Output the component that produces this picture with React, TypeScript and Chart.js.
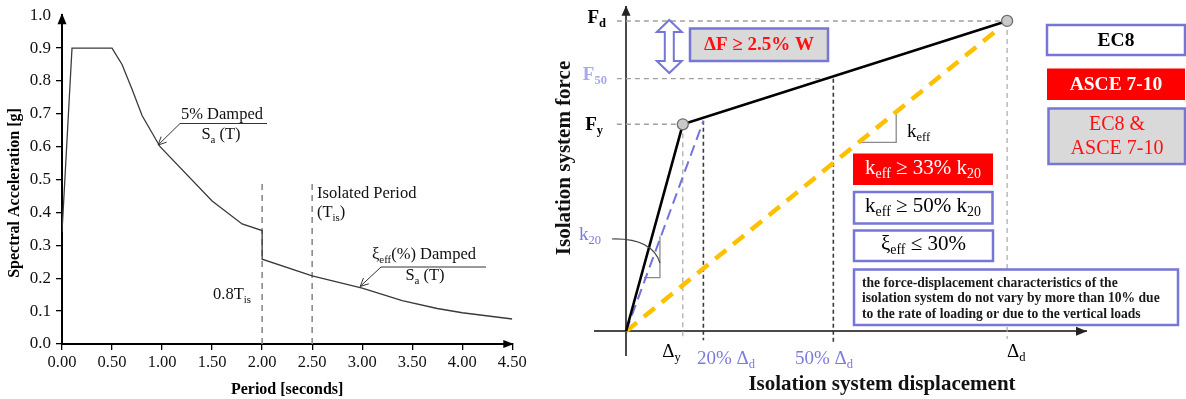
import React, { useEffect, useRef } from "react";
import { Chart, registerables } from "chart.js";
Chart.register(...registerables);

const SERIF = '"Liberation Serif", "Times New Roman", serif';

// ---------- Left chart: design spectrum ----------
const periodSec = [0, 0.1, 0.5, 0.6, 0.7, 0.8, 0.98, 1.5, 1.8, 2.0, 2.0, 2.5, 3.0, 3.4, 3.75, 4.0, 4.5];
const accelG = [0.34, 0.9, 0.9, 0.85, 0.775, 0.695, 0.6, 0.435, 0.365, 0.345, 0.258, 0.207, 0.17, 0.132, 0.108, 0.095, 0.076];
const markerPeriods = [2.0, 2.5]; // 0.8 T_is and T_is
const markerTops = [0.49, 0.49];
const periodTicks = [0, 0.5, 1, 1.5, 2, 2.5, 3, 3.5, 4, 4.5];
const accelTicks = [0, 0.1, 0.2, 0.3, 0.4, 0.5, 0.6, 0.7, 0.8, 0.9, 1.0];
const arrow5Tip = [0.96, 0.605];
const arrowEffTip = [2.98, 0.175];

// ---------- Right chart: force-displacement ----------
const bilinearDisp = [0, 0.149, 1.0];
const bilinearForce = [0, 0.667, 1.0];
const k20Disp = [0, 0.203];
const k20Force = [0, 0.678];
const keffDisp = [0, 0.973];
const keffForce = [0, 0.97];
const forceLevels = [1.0, 0.814, 0.667]; // F_d, F_50, F_y
const forceLevelEnds = [1.0, 0.544, 0.149];
const dispLevels = [0.149, 0.203, 0.544, 1.0]; // Δy, 20% Δd, 50% Δd, Δd
const dispLevelTops = [0.667, 0.678, 0.814, 1.0];
const dispLevelBottoms = [-0.022, -0.029, -0.034, -0.025];
const guideStart = -0.024;
const keffMarkDisp = [0.614, 0.709, 0.709];
const keffMarkForce = [0.609, 0.609, 0.699];
const k20MarkDisp = [0.047, 0.089, 0.089];
const k20MarkForce = [0.173, 0.173, 0.306];

type Seg = { t: string; s?: boolean };
const fnt = (size: number, bold: boolean) => `${bold ? "bold " : ""}${size}px ${SERIF}`;

function drawRich(
  ctx: CanvasRenderingContext2D,
  segs: Seg[],
  x: number,
  y: number,
  size: number,
  color: string,
  align: "left" | "center" | "right",
  bold = false
) {
  const sub = size * 0.66;
  let w = 0;
  const ws = segs.map((sg) => {
    ctx.font = fnt(sg.s ? sub : size, bold);
    const m = ctx.measureText(sg.t).width;
    w += m;
    return m;
  });
  let cx = align === "left" ? x : align === "center" ? x - w / 2 : x - w;
  ctx.fillStyle = color;
  ctx.textBaseline = "middle";
  ctx.textAlign = "left";
  segs.forEach((sg, i) => {
    ctx.font = fnt(sg.s ? sub : size, bold);
    ctx.fillText(sg.t, cx, sg.s ? y + size * 0.3 : y);
    cx += ws[i];
  });
}

function openArrow(ctx: CanvasRenderingContext2D, x1: number, y1: number, x2: number, y2: number) {
  ctx.beginPath();
  ctx.moveTo(x1, y1);
  ctx.lineTo(x2, y2);
  const a = Math.atan2(y2 - y1, x2 - x1);
  const L = 9;
  ctx.moveTo(x2 - L * Math.cos(a - 0.45), y2 - L * Math.sin(a - 0.45));
  ctx.lineTo(x2, y2);
  ctx.lineTo(x2 - L * Math.cos(a + 0.45), y2 - L * Math.sin(a + 0.45));
  ctx.stroke();
}

const leftDecor = {
  id: "leftDecor",
  afterDraw(chart: any) {
    const { ctx, chartArea: ca, scales } = chart;
    const xs = scales.x;
    const ys = scales.y;
    const x0 = xs.getPixelForValue(0);
    const y0 = ys.getPixelForValue(0);
    ctx.save();
    ctx.fillStyle = "#000";
    ctx.beginPath();
    ctx.moveTo(x0, ca.top - 2);
    ctx.lineTo(x0 - 4.5, ca.top + 9);
    ctx.lineTo(x0 + 4.5, ca.top + 9);
    ctx.closePath();
    ctx.fill();
    ctx.beginPath();
    ctx.moveTo(ca.right + 1.5, y0);
    ctx.lineTo(ca.right - 9, y0 - 4);
    ctx.lineTo(ca.right - 9, y0 + 4);
    ctx.closePath();
    ctx.fill();

    // y title
    ctx.save();
    ctx.translate(15, 193);
    ctx.rotate(-Math.PI / 2);
    ctx.font = fnt(16, true);
    ctx.textAlign = "center";
    ctx.textBaseline = "middle";
    ctx.fillStyle = "#000";
    ctx.fillText("Spectral Acceleration [g]", 0, 0);
    ctx.restore();

    const col = "#111";
    ctx.strokeStyle = "#333";
    ctx.lineWidth = 1;
    // 5% damped annotation
    drawRich(ctx, [{ t: "5% Damped" }], 222, 115, 16.5, col, "center");
    ctx.beginPath();
    ctx.moveTo(180, 123.5);
    ctx.lineTo(267, 123.5);
    ctx.stroke();
    openArrow(ctx, 180, 123.5, xs.getPixelForValue(arrow5Tip[0]), ys.getPixelForValue(arrow5Tip[1]));
    drawRich(ctx, [{ t: "S" }, { t: "a", s: true }, { t: " (T)" }], 221, 135, 16.5, col, "center");

    drawRich(ctx, [{ t: "Isolated Period" }], 317, 194, 16.5, col, "left");
    drawRich(ctx, [{ t: "(T" }, { t: "is", s: true }, { t: ")" }], 317, 213, 16.5, col, "left");
    drawRich(ctx, [{ t: "0.8T" }, { t: "is", s: true }], 213, 295, 16.5, col, "left");

    drawRich(ctx, [{ t: "ξ" }, { t: "eff", s: true }, { t: "(%) Damped" }], 372, 255, 16.5, col, "left");
    ctx.beginPath();
    ctx.moveTo(381, 267);
    ctx.lineTo(486, 267);
    ctx.stroke();
    openArrow(ctx, 381, 267, xs.getPixelForValue(arrowEffTip[0]), ys.getPixelForValue(arrowEffTip[1]));
    drawRich(ctx, [{ t: "S" }, { t: "a", s: true }, { t: " (T)" }], 425, 276, 16.5, col, "center");
    ctx.restore();
  },
};

function box(ctx: CanvasRenderingContext2D, x1: number, y1: number, x2: number, y2: number, fill: string, stroke?: string) {
  ctx.fillStyle = fill;
  ctx.fillRect(x1, y1, x2 - x1, y2 - y1);
  if (stroke) {
    ctx.strokeStyle = stroke;
    ctx.lineWidth = 2.5;
    ctx.strokeRect(x1, y1, x2 - x1, y2 - y1);
  }
}

const BLUE = "#7676d8";
const PURPLE = "#7b7bdb";

const rightDecor = {
  id: "rightDecor",
  afterDraw(chart: any) {
    const { ctx, chartArea: ca, scales } = chart;
    const xs = scales.x;
    const ys = scales.y;
    const x0 = xs.getPixelForValue(0);
    const y0 = ys.getPixelForValue(0);
    ctx.save();
    // axis arrows
    ctx.fillStyle = "#222";
    ctx.beginPath();
    ctx.moveTo(x0, ca.top - 1);
    ctx.lineTo(x0 - 4.5, ca.top + 9);
    ctx.lineTo(x0 + 4.5, ca.top + 9);
    ctx.closePath();
    ctx.fill();
    ctx.beginPath();
    ctx.moveTo(ca.right + 1, y0);
    ctx.lineTo(ca.right - 10, y0 - 4.5);
    ctx.lineTo(ca.right - 10, y0 + 4.5);
    ctx.closePath();
    ctx.fill();

    // axis titles
    ctx.save();
    ctx.translate(25, 158);
    ctx.rotate(-Math.PI / 2);
    ctx.font = fnt(21, true);
    ctx.textAlign = "center";
    ctx.textBaseline = "middle";
    ctx.fillStyle = "#111";
    ctx.fillText("Isolation system force", 0, 0);
    ctx.restore();
    ctx.font = fnt(21, true);
    ctx.textAlign = "center";
    ctx.textBaseline = "middle";
    ctx.fillStyle = "#111";
    ctx.fillText("Isolation system displacement", 342, 385);

    // force level labels
    drawRich(ctx, [{ t: "F" }, { t: "d", s: true }], 66, ys.getPixelForValue(forceLevels[0]) - 3, 19, "#000", "right", true);
    drawRich(ctx, [{ t: "F" }, { t: "50", s: true }], 67, ys.getPixelForValue(forceLevels[1]) - 4, 19, "#a8a8ee", "right", true);
    drawRich(ctx, [{ t: "F" }, { t: "y", s: true }], 63, ys.getPixelForValue(forceLevels[2]) + 1, 19, "#000", "right", true);

    // displacement labels
    drawRich(ctx, [{ t: "Δ" }, { t: "y", s: true }], xs.getPixelForValue(dispLevels[0]) - 2, 352, 19, "#000", "right");
    drawRich(ctx, [{ t: "20% Δ" }, { t: "d", s: true }], 157, 359, 19, PURPLE, "left");
    drawRich(ctx, [{ t: "50% Δ" }, { t: "d", s: true }], 255, 359, 19, PURPLE, "left");
    drawRich(ctx, [{ t: "Δ" }, { t: "d", s: true }], xs.getPixelForValue(dispLevels[3]), 352, 19, "#000", "left");

    // stiffness labels
    drawRich(ctx, [{ t: "k" }, { t: "eff", s: true }], 367, 132, 19, "#000", "left");
    drawRich(ctx, [{ t: "k" }, { t: "20", s: true }], 39, 235, 19, PURPLE, "left");
    ctx.strokeStyle = "#444";
    ctx.lineWidth = 1.2;
    ctx.beginPath();
    ctx.moveTo(72, 239);
    ctx.quadraticCurveTo(112, 238, 120, 263);
    ctx.stroke();

    // hollow double arrow
    const cx = 129.3;
    ctx.beginPath();
    ctx.moveTo(cx, 20);
    ctx.lineTo(cx + 12.5, 32);
    ctx.lineTo(cx + 4.5, 32);
    ctx.lineTo(cx + 4.5, 61);
    ctx.lineTo(cx + 12.5, 61);
    ctx.lineTo(cx, 73);
    ctx.lineTo(cx - 12.5, 61);
    ctx.lineTo(cx - 4.5, 61);
    ctx.lineTo(cx - 4.5, 32);
    ctx.lineTo(cx - 12.5, 32);
    ctx.closePath();
    ctx.fillStyle = "#fff";
    ctx.fill();
    ctx.strokeStyle = BLUE;
    ctx.lineWidth = 2;
    ctx.stroke();

    // boxes
    box(ctx, 150, 28.5, 288, 61, "#d9d9d9", BLUE);
    drawRich(ctx, [{ t: "ΔF ≥ 2.5% W" }], 219, 45, 19, "#ff1010", "center", true);

    box(ctx, 507, 25, 645, 55, "#fff", BLUE);
    drawRich(ctx, [{ t: "EC8" }], 576, 40.5, 19.5, "#000", "center", true);
    box(ctx, 507, 68.5, 645, 100, "#ff0000");
    drawRich(ctx, [{ t: "ASCE 7-10" }], 576, 84.5, 19.5, "#fff", "center", true);
    box(ctx, 508.5, 108.5, 645, 164, "#d9d9d9", BLUE);
    drawRich(ctx, [{ t: "EC8 &" }], 577, 124.5, 20, "#ff1010", "center");
    drawRich(ctx, [{ t: "ASCE 7-10" }], 577, 148.5, 20, "#ff1010", "center");

    box(ctx, 313, 153.5, 453, 185, "#ff0000");
    drawRich(ctx, [{ t: "k" }, { t: "eff", s: true }, { t: " ≥ 33% k" }, { t: "20", s: true }], 383, 168, 21, "#fff", "center");
    box(ctx, 314, 192, 452.5, 223.5, "#fff", BLUE);
    drawRich(ctx, [{ t: "k" }, { t: "eff", s: true }, { t: " ≥ 50% k" }, { t: "20", s: true }], 383, 206, 21, "#000", "center");
    box(ctx, 314, 230.5, 453, 261, "#fff", BLUE);
    drawRich(ctx, [{ t: "ξ" }, { t: "eff", s: true }, { t: " ≤ 30%" }], 383.5, 244.5, 21, "#000", "center");

    box(ctx, 314, 269.5, 638, 325, "#fff", BLUE);
    const lines = [
      "the force-displacement characteristics of the",
      "isolation system do not vary by more than 10% due",
      "to the rate of loading or due to the vertical loads",
    ];
    lines.forEach((ln, i) => drawRich(ctx, [{ t: ln }], 322, 283 + i * 15.9, 13.6, "#1a1a1a", "left", true));
    ctx.restore();
  },
};

const pts = (xs: number[], ys: number[]) => xs.map((x, i) => ({ x, y: ys[i] }));

export default function App() {
  const leftRef = useRef<HTMLCanvasElement>(null);
  const rightRef = useRef<HTMLCanvasElement>(null);

  useEffect(() => {
    const left = new Chart(leftRef.current as HTMLCanvasElement, {
      type: "line",
      data: {
        datasets: [
          {
            data: pts(periodSec, accelG),
            borderColor: "#3a3a3a",
            borderWidth: 1.3,
            pointRadius: 0,
            tension: 0,
          },
          ...markerPeriods.map((p, i) => ({
            data: [
              { x: p, y: 0 },
              { x: p, y: markerTops[i] },
            ],
            borderColor: "#8a8a8a",
            borderWidth: 1.6,
            borderDash: [6, 5],
            pointRadius: 0,
          })),
        ],
      },
      options: {
        responsive: false,
        animation: false,
        layout: { padding: { left: 0, right: 22.7, top: 11, bottom: 0 } },
        plugins: { legend: { display: false }, tooltip: { enabled: false } },
        scales: {
          x: {
            type: "linear",
            min: 0,
            max: 4.5,
            afterBuildTicks: (s: any) => {
              s.ticks = periodTicks.map((v) => ({ value: v }));
            },
            afterFit: (s: any) => {
              s.height = 55;
            },
            grid: { drawOnChartArea: false, drawTicks: true, tickLength: 6, color: "#000", lineWidth: 1.3 },
            border: { display: true, color: "#000", width: 2 },
            ticks: {
              autoSkip: false,
              maxRotation: 0,
              padding: 3,
              color: "#111",
              font: { family: SERIF, size: 16.5 },
              callback: (v: any) => Number(v).toFixed(2),
            },
            title: {
              display: true,
              text: "Period [seconds]",
              color: "#000",
              font: { family: SERIF, size: 16, weight: "bold" },
              padding: { top: 0, bottom: 0 },
            },
          },
          y: {
            type: "linear",
            min: 0,
            max: 1,
            afterBuildTicks: (s: any) => {
              s.ticks = accelTicks.map((v) => ({ value: v }));
            },
            afterFit: (s: any) => {
              s.width = 62;
            },
            grid: {
              drawOnChartArea: false,
              drawTicks: true,
              tickLength: 6,
              lineWidth: 1.3,
              color: (c: any) => (c.tick && c.tick.value === 1 ? "rgba(0,0,0,0)" : "#000"),
            },
            border: { display: true, color: "#000", width: 2 },
            ticks: {
              autoSkip: false,
              padding: 5,
              color: "#111",
              font: { family: SERIF, size: 17 },
              callback: (v: any) => Number(v).toFixed(1),
            },
          },
        },
      } as any,
      plugins: [leftDecor],
    });

    const guideSets = [
      ...forceLevels.map((f, i) => ({
        data: [
          { x: guideStart, y: f },
          { x: forceLevelEnds[i], y: f },
        ],
        borderColor: "#a0a0a0",
        borderWidth: 1.4,
        borderDash: [5, 4],
        pointRadius: 0,
      })),
      ...dispLevels.map((d, i) => ({
        data: [
          { x: d, y: dispLevelTops[i] },
          { x: d, y: dispLevelBottoms[i] },
        ],
        borderColor: i === 1 || i === 2 ? "#3a3a3a" : "#a8a8a8",
        borderWidth: i === 1 || i === 2 ? 1.6 : 1.2,
        borderDash: i === 1 || i === 2 ? [4, 3] : [5, 4],
        pointRadius: 0,
      })),
    ];

    const right = new Chart(rightRef.current as HTMLCanvasElement, {
      type: "line",
      data: {
        datasets: [
          {
            data: pts(bilinearDisp, bilinearForce),
            borderColor: "#000",
            borderWidth: 2.6,
            pointRadius: [0, 5.5, 5.5],
            pointBackgroundColor: "#c9c9c9",
            pointBorderColor: "#6e6e6e",
            pointBorderWidth: 1.3,
          },
          {
            data: pts(k20Disp, k20Force),
            borderColor: "#7272e0",
            borderWidth: 2,
            borderDash: [11, 6],
            pointRadius: 0,
          },
          {
            data: pts(keffDisp, keffForce),
            borderColor: "#ffc000",
            borderWidth: 4.5,
            borderDash: [14, 9],
            pointRadius: 0,
          },
          {
            data: pts(keffMarkDisp, keffMarkForce),
            borderColor: "#8a8a8a",
            borderWidth: 1.3,
            pointRadius: 0,
          },
          {
            data: pts(k20MarkDisp, k20MarkForce),
            borderColor: "#8a8a8a",
            borderWidth: 1.3,
            pointRadius: 0,
          },
          ...guideSets,
        ],
      },
      options: {
        responsive: false,
        animation: false,
        layout: { padding: { left: 55, right: 100, top: 3, bottom: 44 } },
        plugins: { legend: { display: false }, tooltip: { enabled: false } },
        scales: {
          x: {
            type: "linear",
            min: -0.0814,
            max: 1.207,
            position: { y: 0 },
            afterFit: (s: any) => {
              s.height = 0;
            },
            ticks: { display: false },
            grid: { display: false, drawTicks: false },
            border: { display: true, color: "#4a4a4a", width: 2 },
          },
          y: {
            type: "linear",
            min: -0.0765,
            max: 1.0456,
            position: { x: 0 },
            afterFit: (s: any) => {
              s.width = 0;
            },
            ticks: { display: false },
            grid: { display: false, drawTicks: false },
            border: { display: true, color: "#4a4a4a", width: 2 },
          },
        },
      } as any,
      plugins: [rightDecor],
    });

    return () => {
      left.destroy();
      right.destroy();
    };
  }, []);

  return (
    <div style={{ position: "absolute", left: 0, top: 0, width: 1186, height: 399, background: "#fff" }}>
      <canvas
        ref={leftRef}
        width={535}
        height={399}
        style={{ position: "absolute", left: 0, top: 0, width: 535, height: 399 }}
      />
      <canvas
        ref={rightRef}
        width={646}
        height={399}
        style={{ position: "absolute", left: 540, top: 0, width: 646, height: 399 }}
      />
    </div>
  );
}
